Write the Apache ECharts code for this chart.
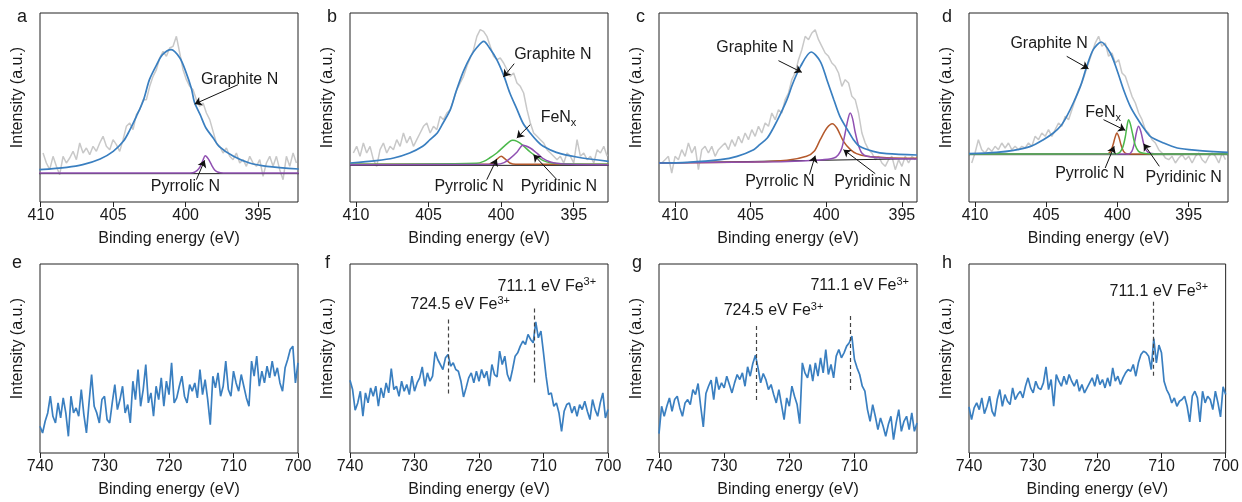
<!DOCTYPE html>
<html>
<head>
<meta charset="utf-8">
<script src="https://cdn.jsdelivr.net/npm/echarts@6/dist/echarts.min.js"></script>
<style>
  html, body { margin: 0; padding: 0; background: #fff; }
  #chart { width: 1242px; height: 502px; }
</style>
</head>
<body>
<div id="chart"></div>
<script>
// ---- N 1s panels (a-d): raw spectra on a uniform energy grid, intensity in a.u.
const aGreyStart = 409.84, aGreyStep = 0.23;
const aGrey = [147,117,97,137,107,82,137,117,132,152, 127,177,147,162,142,167,152,177,197,167,
  157,187,172,152,187,227,237,217,262,277, 307,307,347,377,397,432,452,437,462,467,
  497,447,397,367,347,337,307,287,297,267, 247,212,177,167,147,162,137,127,147,117,
  127,107,137,117,107,127,77,117,137,107, 137,97,67,137,107,147,117];

const bGreyStart = 410.18, bGreyStep = 0.23;
const bGrey = [147,167,137,177,147,167,127,107,157,177, 147,167,157,187,167,207,177,197,167,187,
  207,227,237,207,227,217,257,247,267,277, 307,337,357,377,407,432,457,497,517,512,
  497,467,437,427,432,417,397,377,387,357, 347,327,277,237,207,197,187,177,157,147,
  137,127,137,117,147,137,117,187,137,147, 127,137,117,157,147,167,137];

const cGreyStart = 410.88, cGreyStep = 0.2206;
const cGrey = [117,127,137,87,137,127,157,137,177,147, 167,97,157,167,147,167,137,157,167,177,
  157,187,167,197,177,207,187,217,197,227, 207,237,227,267,247,277,267,307,327,367,
  387,427,457,497,487,507,517,487,467,447, 437,417,407,387,347,367,357,317,307,267,
  207,177,157,147,127,137,117,107,127,137, 97,127,107,137,117,137,127];

const dGreyStart = 410.23, dGreyStep = 0.2344;
const dGrey = [117,147,187,157,147,162,152,167,157,177, 162,177,157,167,157,167,162,177,167,197,
  187,207,197,217,197,217,237,227,257,247, 277,307,337,357,387,417,447,477,497,467,
  477,437,447,417,427,387,377,347,317,297, 267,247,217,207,187,177,157,147,132,127,
  137,117,132,142,127,137,117,137,147,127, 117,137,147,137,117,147,127];

// fitted components, [binding energy, intensity]
const aGraphite = [[410.1,97],[408.2,104],[407.1,112],[405.9,129],[405,152],[404.3,182],[403.9,212],[403.4,257],
  [402.9,307],[402.5,367],[402,412],[401.6,442],[401,457],[400.4,432],[400,392],[399.6,340],[399.4,300],
  [399,262],[398.6,222],[398.1,192],[397.7,167],[396.7,137],[395.6,117],[394.4,107],[392.2,99]];
const aPyrrolic = [[410.1,87],[400,87],[399.5,88],[399.2,95],[399,106],[398.8,126],[398.65,139],[398.45,130],
  [398.2,110],[398,96],[397.8,90],[397.4,87],[392.2,87]];
const aBase = [[410.1,85],[392.2,85]];

const bGraphite = [[410.4,117],[408.6,124],[407.4,132],[406.3,147],[405.4,167],[404.9,187],[404.4,207],[404,237],
  [403.5,277],[403.1,332],[402.6,392],[402.1,437],[401.7,462],[401.2,482],[400.8,462],[400.3,427],[399.8,377],
  [399.4,327],[398.9,277],[398.5,237],[398,207],[397.5,182],[397.1,167],[396.2,149],[394.8,135],[392.6,122]];
const bFeNx = [[410.4,113],[401.7,116],[401.2,122],[400.8,132],[400.3,147],[399.8,167],[399.4,182],[399.2,185],
  [398.9,182],[398.5,170],[398,150],[397.5,135],[397.1,124],[396.6,118],[395.7,115],[392.6,113]];
const bPyridinic = [[410.4,112],[400.3,113],[399.8,118],[399.4,130],[398.9,150],[398.5,170],[398,162],
  [397.5,145],[397.1,130],[396.6,120],[396.2,116],[395.3,113],[392.6,112]];
const bPyrrolic = [[410.4,113],[400.9,113],[400.5,118],[400.3,128],[400,137],[399.7,128],[399.4,117],
  [399,113],[392.6,113]];
const bBase = [[410.4,110],[392.6,110]];

const cGraphite = [[411.06,117],[409.2,119],[407,127],[405.9,137],[404.8,157],[404.4,172],[403.9,192],[403.5,222],
  [403.05,262],[402.6,307],[402.2,357],[401.7,407],[401,450],[400.4,422],[399.96,367],[399.5,307],[399.1,257],
  [398.6,217],[398.2,187],[397.8,167],[396.9,152],[396,145],[394,141]];
const cPyrrolic = [[411.06,117],[404.8,120],[402.6,125],[401.3,137],[400.8,152],[400.4,187],[399.96,222],
  [399.6,235],[399.3,222],[398.86,182],[398.4,157],[398,145],[397.3,137],[396,133],[394,131]];
const cPyridinic = [[411.06,117],[403,121],[400.4,126],[399.5,132],[399.2,142],[398.97,162],[398.75,207],
  [398.57,247],[398.42,267],[398.26,250],[398.09,210],[397.87,170],[397.65,147],[397.3,137],[396,131],[394,129]];
const cBase = [[411.06,117],[394,130]];

const dGraphite = [[410.42,145],[408.5,149],[407.3,155],[406.1,167],[405.2,187],[404.5,207],[404,227],[403.56,257],
  [403.1,297],[402.6,347],[402.15,407],[401.7,457],[401.14,480],[400.5,447],[400.04,397],[399.57,337],[399.1,287],
  [398.63,252],[398.16,222],[397.7,197],[396.76,177],[395.8,162],[394.4,155],[392.24,149]];
const dFeNx = [[410.42,144],[400.04,145],[399.81,150],[399.62,165],[399.45,195],[399.34,225],[399.22,247],
  [399.1,235],[398.94,205],[398.75,170],[398.52,152],[398.16,146],[397.5,144],[392.24,144]];
const dPyrrolic = [[410.42,144],[400.74,144],[400.51,150],[400.32,170],[400.16,195],[400.04,207],[399.9,195],
  [399.74,170],[399.57,152],[399.34,145],[398.5,144],[392.24,144]];
const dPyridinic = [[410.42,144],[399.22,144],[398.99,152],[398.82,175],[398.66,210],[398.52,227],[398.35,210],
  [398.16,175],[397.98,155],[397.7,146],[397,144],[392.24,144]];
const dBase = [[410.42,142],[392.24,142]];

// ---- Fe 2p panels (e-h): 740 -> 700 eV, 0.4 eV step
const feStart = 740, feStep = 0.4;
const eVals = [80,60,95,120,170,110,90,150,105,165, 120,50,170,120,135,110,190,115,60,150,
  235,140,120,90,160,170,100,90,150,205, 130,160,200,120,145,90,215,160,250,140,
  190,265,150,180,110,200,160,225,140,215, 175,270,150,165,200,230,170,150,205,185,
  210,165,250,175,220,160,85,230,195,240, 170,200,275,190,170,245,210,185,235,200,
  165,140,275,230,290,200,245,210,260,225, 275,230,255,210,185,255,280,310,320,210, 270];
const fVals = [218,190,128,150,185,110,180,150,195,170, 200,140,195,165,210,180,253,190,200,170,
  215,185,205,175,230,185,210,225,258,200, 240,215,230,303,280,265,250,285,295,260,
  270,250,245,215,168,195,225,240,210,245, 215,250,225,245,200,265,235,228,305,265,
  290,235,215,250,290,300,320,335,325,355, 340,330,393,345,365,300,230,175,180,140,
  150,120,65,125,145,150,120,140,110,145, 130,155,125,100,160,130,110,150,180,105, 130];
const gVals = [58,140,110,140,165,125,160,170,135,110, 150,160,145,190,175,208,140,78,178,200,
  218,160,228,190,210,195,230,205,180,210, 235,220,240,200,258,230,268,293,255,210,
  238,220,190,205,175,150,190,145,100,165, 140,200,170,145,88,270,240,225,265,215,
  270,230,285,240,310,235,265,225,290,310, 285,300,320,330,350,280,255,235,200,185,
  130,95,145,110,70,105,80,50,85,110, 40,90,130,65,95,110,70,120,65,90];
const hVals = [138,100,135,150,130,165,118,140,170,125, 110,160,190,140,175,155,145,195,160,175,
  185,165,200,225,195,180,215,195,190,210, 258,190,220,140,235,215,200,230,205,235,
  215,200,220,185,205,180,195,210,225,200, 235,205,220,195,225,200,255,215,230,205,
  225,240,250,245,265,230,270,295,305,300, 290,250,343,270,323,300,215,190,175,150,
  165,140,155,160,170,140,93,170,185,165, 93,185,150,170,160,130,185,150,108,198, 175];

const nTicks = [395, 400, 405, 410];
const feTicks = [700, 710, 720, 730, 740];

const BLUE = '#3a7fc0', GREY = '#c8c8c8', PURPLE = '#9050b2', GREEN = '#4bb84b', BROWN = '#b4592c';
const INK = '#1a1a1a';
const FONT = '"Liberation Sans", Arial, Helvetica, sans-serif';

function grid1d(start, step, vals) {
  return vals.map((v, i) => [+(start - i * step).toFixed(3), v]);
}

const FE3 = 'Fe{sup|3+}';

// [E, value, text] labels; [E1, v1, E2, v2] arrows / dashed markers
const panels = [
  { letter: 'a', box: [40, 13, 258], x: [392.25, 410.05], ticks: nTicks, yMax: 567,
    lines: [[grid1d(aGreyStart, aGreyStep, aGrey), GREY, 1.5, false], [aBase, INK, 1, false],
            [aPyrrolic, PURPLE, 1.5, true], [aGraphite, BLUE, 1.7, true]],
    texts: [[396.28, 367, 'Graphite N'], [400.02, 47, 'Pyrrolic N']],
    arrows: [[396.39, 352, 399.38, 294], [399.26, 67, 398.69, 125]] },
  { letter: 'b', box: [350, 13, 258], x: [392.64, 410.41], ticks: nTicks, yMax: 567,
    lines: [[grid1d(bGreyStart, bGreyStep, bGrey), GREY, 1.5, false], [bBase, INK, 1, false],
            [bPyrrolic, BROWN, 1.5, true], [bFeNx, GREEN, 1.5, true], [bPyridinic, PURPLE, 1.5, true],
            [bGraphite, BLUE, 1.7, true]],
    texts: [[396.44, 442, 'Graphite N'], [396.05, 252, 'FeN{sub|x}'], [402.21, 47, 'Pyrrolic N'], [396.02, 47, 'Pyridinic N']],
    arrows: [[399.1, 415, 399.84, 375], [398.0, 232, 398.92, 192], [400.99, 67, 400.3, 129], [396.16, 67, 397.77, 142]] },
  { letter: 'c', box: [659, 13, 258], x: [394.0, 411.06], ticks: nTicks, yMax: 567,
    lines: [[grid1d(cGreyStart, cGreyStep, cGrey), GREY, 1.5, false], [cBase, INK, 1, false],
            [cPyrrolic, BROWN, 1.5, true], [cPyridinic, PURPLE, 1.5, true], [cGraphite, BLUE, 1.7, true]],
    texts: [[404.71, 462, 'Graphite N'], [403.07, 62, 'Pyrrolic N'], [396.94, 62, 'Pyridinic N']],
    arrows: [[403.16, 424, 401.62, 389], [401.11, 82, 400.73, 139], [396.76, 85, 398.86, 157]] },
  { letter: 'd', box: [969, 13, 259], x: [392.24, 410.42], ticks: nTicks, yMax: 567,
    lines: [[grid1d(dGreyStart, dGreyStep, dGrey), GREY, 1.5, false], [dBase, INK, 1, false],
            [dPyrrolic, BROWN, 1.5, true], [dPyridinic, PURPLE, 1.5, true], [dFeNx, GREEN, 1.5, true],
            [dGraphite, BLUE, 1.7, true]],
    texts: [[404.8, 474, 'Graphite N'], [401.0, 267, 'FeN{sub|x}'], [401.94, 85, 'Pyrrolic N'], [395.35, 72, 'Pyridinic N']],
    arrows: [[403.56, 437, 402.03, 400], [400.98, 247, 399.45, 215], [400.86, 102, 400.23, 167], [397.06, 107, 398.16, 175]] },
  { letter: 'e', box: [40, 264, 258], x: [700, 740], ticks: feTicks, yMax: 566,
    lines: [[grid1d(feStart, feStep, eVals), BLUE, 1.7, false]], texts: [], dashes: [] },
  { letter: 'f', box: [350, 264, 258], x: [700, 740], ticks: feTicks, yMax: 566,
    lines: [[grid1d(feStart, feStep, fVals), BLUE, 1.7, false]],
    texts: [[722.93, 443, '724.5 eV ' + FE3], [709.48, 498, '711.1 eV ' + FE3]],
    dashes: [[724.84, 400, 724.84, 170], [711.39, 433, 711.39, 203]] },
  { letter: 'g', box: [659, 264, 258], x: [700.4, 740], ticks: [710, 720, 730, 740], yMax: 566,
    lines: [[grid1d(feStart, feStep, gVals), BLUE, 1.7, false]],
    texts: [[722.42, 425, '724.5 eV ' + FE3], [709.19, 500, '711.1 eV ' + FE3]],
    dashes: [[725.08, 380, 725.08, 150], [710.62, 410, 710.62, 183]] },
  { letter: 'h', box: [969, 264, 259], x: [700, 740], ticks: feTicks, yMax: 566,
    lines: [[grid1d(feStart, feStep, hVals), BLUE, 1.7, false]],
    texts: [[710.41, 483, '711.1 eV ' + FE3]],
    dashes: [[711.29, 453, 711.29, 223]] }
];

const letterPos = [[17, 8], [327, 8], [636, 8], [942, 8], [12, 254], [325, 254], [632, 254], [942, 254]];

const grids = [], xAxes = [], yAxes = [], series = [], graphics = [];

panels.forEach((p, i) => {
  grids.push({ left: p.box[0], top: p.box[1], width: p.box[2], height: 189,
    show: true, borderColor: '#222', borderWidth: 1, backgroundColor: 'transparent' });
  xAxes.push({
    gridIndex: i, type: 'value', inverse: true, min: p.x[0], max: p.x[1],
    axisLine: { show: false },
    axisTick: { show: true, length: 5, customValues: p.ticks, lineStyle: { color: '#222', width: 1 } },
    axisLabel: { customValues: p.ticks, fontSize: 16, color: INK, fontFamily: FONT, margin: 6 },
    splitLine: { show: false },
    name: 'Binding energy (eV)', nameLocation: 'middle', nameGap: 29,
    nameTextStyle: { fontSize: 16, color: INK, fontFamily: FONT }
  });
  yAxes.push({
    gridIndex: i, type: 'value', min: 0, max: p.yMax,
    axisLine: { show: false }, axisTick: { show: false }, axisLabel: { show: false }, splitLine: { show: false },
    name: 'Intensity (a.u.)', nameLocation: 'middle', nameGap: 14,
    nameTextStyle: { fontSize: 16, color: INK, fontFamily: FONT, padding: [0, 0, 0, 20] }
  });

  p.lines.forEach((l, k) => {
    const s = {
      type: 'line', xAxisIndex: i, yAxisIndex: i, data: l[0], symbol: 'none', showSymbol: false,
      smooth: l[3] ? 0.3 : false, silent: true,
      lineStyle: { color: l[1], width: l[2] }
    };
    if (k === p.lines.length - 1) {
      s.markPoint = {
        symbol: 'circle', symbolSize: 0, silent: true,
        label: {
          show: true, position: 'inside', color: INK, fontSize: 16, fontFamily: FONT,
          rich: {
            sub: { fontSize: 11, color: INK, fontFamily: FONT, padding: [9, 0, 0, 0] },
            sup: { fontSize: 11, color: INK, fontFamily: FONT, padding: [0, 0, 9, 0] }
          }
        },
        data: p.texts.map(t => ({ coord: [t[0], t[1]], label: { formatter: t[2] } }))
      };
      if (p.arrows) {
        s.markLine = {
          silent: true, symbol: ['none', 'arrow'], symbolSize: 7, label: { show: false },
          lineStyle: { color: '#111', width: 1, type: 'solid' },
          data: p.arrows.map(a => [{ coord: [a[0], a[1]] }, { coord: [a[2], a[3]] }])
        };
      } else if (p.dashes && p.dashes.length) {
        s.markLine = {
          silent: true, symbol: ['none', 'none'], label: { show: false },
          lineStyle: { color: '#444', width: 1.2, type: [4, 3] },
          data: p.dashes.map(a => [{ coord: [a[0], a[1]] }, { coord: [a[2], a[3]] }])
        };
      }
    }
    series.push(s);
  });

  graphics.push({ type: 'text', left: letterPos[i][0], top: letterPos[i][1],
    style: { text: p.letter, fontSize: 18, fill: INK, fontFamily: FONT } });
});

const chart = echarts.init(document.getElementById('chart'), null, { renderer: 'canvas' });
chart.setOption({
  animation: false,
  backgroundColor: '#fff',
  grid: grids,
  xAxis: xAxes,
  yAxis: yAxes,
  series: series,
  graphic: graphics
});
</script>
</body>
</html>
